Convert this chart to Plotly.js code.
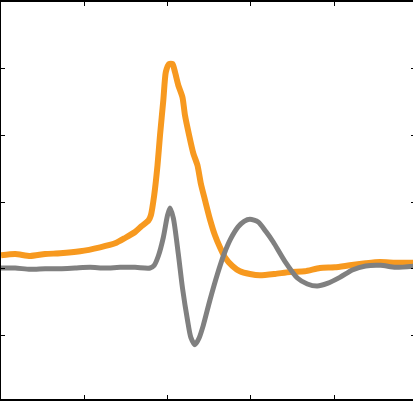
<!DOCTYPE html>
<html>
<head>
<meta charset="utf-8">
<script src="https://cdn.plot.ly/plotly-3.0.1.min.js"></script>
<style>
html,body{margin:0;padding:0;overflow:hidden;background:#fff;}
#chart{width:416px;height:401px;}
</style>
</head>
<body>
<div id="chart"></div>
<script>
// Gray trace
var grayX = [0.00,0.17,0.35,0.53,0.71,0.89,1.07,1.25,1.43,1.61,1.79,1.84,1.89,1.95,2.00,2.03,2.07,2.13,2.18,2.24,2.28,2.33,2.38,2.43,2.51,2.60,2.68,2.76,2.85,2.92,2.99,3.09,3.18,3.27,3.41,3.56,3.68,3.80,3.92,4.07,4.22,4.38,4.56,4.74,4.97];
var grayY = [1.01,1.01,0.99,1.00,1.00,1.01,1.02,1.01,1.02,1.02,1.01,1.05,1.19,1.47,1.80,1.91,1.76,1.22,0.71,0.23,-0.03,-0.14,-0.04,0.15,0.53,0.92,1.22,1.45,1.63,1.71,1.74,1.70,1.56,1.40,1.11,0.86,0.77,0.74,0.78,0.87,0.98,1.04,1.05,1.02,1.04];
// Orange trace
var orangeX = [0.00,0.17,0.35,0.53,0.71,0.95,1.19,1.37,1.49,1.61,1.69,1.77,1.80,1.84,1.88,1.91,1.95,1.98,2.02,2.06,2.09,2.13,2.18,2.21,2.26,2.31,2.36,2.40,2.45,2.51,2.57,2.63,2.69,2.78,2.87,2.99,3.11,3.29,3.47,3.65,3.83,4.01,4.19,4.38,4.55,4.74,4.97];
var orangeY = [1.20,1.22,1.19,1.22,1.23,1.26,1.32,1.38,1.46,1.55,1.64,1.72,1.80,2.10,2.55,3.00,3.53,3.95,4.07,4.07,3.95,3.75,3.57,3.30,3.00,2.73,2.55,2.28,2.03,1.74,1.50,1.32,1.17,1.04,0.96,0.92,0.90,0.92,0.95,0.96,1.01,1.02,1.05,1.08,1.10,1.09,1.09];

var traces = [
  {x: orangeX, y: orangeY, type: 'scatter', mode: 'lines',
   line: {color: '#F7991F', width: 6, shape: 'spline', smoothing: 0.6}, hoverinfo: 'skip'},
  {x: grayX, y: grayY, type: 'scatter', mode: 'lines',
   line: {color: '#808080', width: 5, shape: 'spline', smoothing: 0.7}, hoverinfo: 'skip'}
];

var layout = {
  width: 416, height: 401,
  margin: {l: 1, r: 1, t: 2, b: 2, pad: 0},
  paper_bgcolor: '#ffffff', plot_bgcolor: '#ffffff',
  showlegend: false,
  xaxis: {range: [0, 4.973], tick0: 0, dtick: 1, showticklabels: false,
          ticks: 'inside', ticklen: 4, tickwidth: 1, tickcolor: '#000',
          showline: true, linecolor: '#000', linewidth: 2, mirror: 'ticks',
          showgrid: false, zeroline: false},
  yaxis: {range: [-0.955, 5.0], tick0: 0, dtick: 1, showticklabels: false,
          ticks: 'inside', ticklen: 4, tickwidth: 1, tickcolor: '#000',
          showline: true, linecolor: '#000', linewidth: 2, mirror: 'ticks',
          showgrid: false, zeroline: false}
};

Plotly.newPlot('chart', traces, layout, {staticPlot: true, displayModeBar: false});
</script>
</body>
</html>
